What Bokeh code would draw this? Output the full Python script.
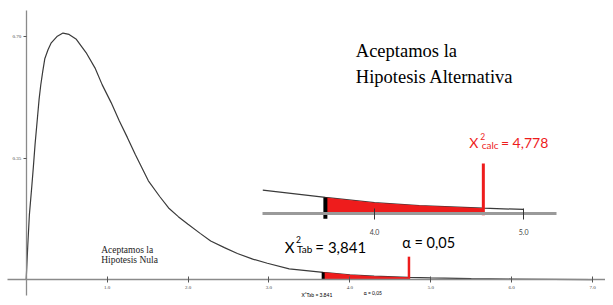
from bokeh.plotting import figure
from bokeh.models import Range1d, LinearAxis, FixedTicker, PrintfTickFormatter
from bokeh.core.properties import value
from bokeh.embed import file_html
from bokeh.resources import INLINE

# ---- data ----
curve_x = [0.0, 0.02, 0.04, 0.07, 0.09, 0.11, 0.14, 0.16, 0.18, 0.205, 0.23, 0.27, 0.31, 0.38, 0.455,
           0.53, 0.62, 0.74, 0.85, 0.94, 1.05, 1.15, 1.25, 1.35, 1.51, 1.65, 1.76, 1.88, 2.0, 2.15,
           2.28, 2.45, 2.61, 2.8, 2.98, 3.25, 3.67, 4.0, 4.3, 4.73, 5.0, 5.5, 6.0, 6.5, 7.0]
curve_y = [0.0, 0.10, 0.188, 0.27, 0.328, 0.39, 0.468, 0.52, 0.56, 0.60, 0.636, 0.662, 0.682, 0.700, 0.71,
           0.706, 0.692, 0.654, 0.61, 0.561, 0.51, 0.458, 0.41, 0.36, 0.285, 0.24, 0.207, 0.182, 0.16, 0.134,
           0.112, 0.093, 0.076, 0.06, 0.048, 0.032, 0.022, 0.015, 0.011, 0.0075, 0.0058, 0.004, 0.0028, 0.0018, 0.001]
x_ticks = [1, 2, 3, 4, 5, 6, 7]
y_ticks = [0.35, 0.70]
inset_ticks = [4.0, 5.0]
tab_at = 3.67       # where the tabulated value is drawn
calc_at = 4.73      # where the calculated value is drawn
tab_text = "3,841"
calc_text = "4,778"
alpha_text = "0,05"
inset_span = (3.25, 5.22)
main_calc_h = 0.067
inset_calc_h = 0.068

RED = "#ee1c1c"
CURVE = "#3a3a3a"
SERIF = value("Liberation Serif")
SANS = value("Lato")

p = figure(width=605, height=297, x_range=Range1d(-0.3171, 7.1585), y_range=Range1d(-0.0504, 0.8036),
           output_backend="svg", toolbar_location=None, x_axis_type=None, y_axis_type=None,
           min_border=0)
p.outline_line_color = None
p.background_fill_color = "white"
p.border_fill_color = "white"
# "inset" = zoomed view of the tail; "px" = annotation placement in reference pixels
p.extra_x_ranges = {"inset": Range1d(1.490, 5.5497), "px": Range1d(0, 613)}
p.extra_y_ranges = {"inset": Range1d(-0.1132, 0.2882), "px": Range1d(305, 0)}

# main axes
xa = LinearAxis(fixed_location=0, bounds=(-0.23, 7.16), ticker=FixedTicker(ticks=x_ticks),
                formatter=PrintfTickFormatter(format="%.1f"),
                axis_line_color="#8a8a8a", axis_line_width=1.3, major_tick_line_color="#555",
                major_tick_in=3, major_tick_out=3, minor_tick_line_color=None,
                major_label_text_font_size="5px", major_label_text_font="Liberation Serif",
                major_label_text_color="#444", major_label_standoff=3)
p.add_layout(xa, "below")
ya = LinearAxis(fixed_location=0, bounds=(-0.045, 0.7756), ticker=FixedTicker(ticks=y_ticks),
                formatter=PrintfTickFormatter(format="%.2f"),
                axis_line_color="#8a8a8a", axis_line_width=1.3, major_tick_line_color="#555",
                major_tick_in=0, major_tick_out=3, minor_tick_line_color=None,
                major_label_text_font_size="5px", major_label_text_font="Liberation Serif",
                major_label_text_color="#444", major_label_standoff=2)
p.add_layout(ya, "left")

# main curve, fill and marks
p.line(curve_x, curve_y, line_color=CURVE, line_width=1.2)
fx = [x for x in curve_x if tab_at <= x <= calc_at]
fy = [curve_y[curve_x.index(x)] for x in fx]
y_tab = curve_y[curve_x.index(tab_at)]
p.varea(x=fx, y1=[0] * len(fx), y2=fy, fill_color=RED)
p.segment(x0=[tab_at], y0=[0], x1=[tab_at], y1=[y_tab], line_color="black", line_width=3)
p.segment(x0=[calc_at], y0=[0], x1=[calc_at], y1=[main_calc_h], line_color=RED, line_width=2.5)

# inset (zoomed tail)
ia = LinearAxis(x_range_name="inset", y_range_name="inset", fixed_location=0, bounds=inset_span,
                ticker=FixedTicker(ticks=inset_ticks), formatter=PrintfTickFormatter(format="%.1f"),
                axis_line_color="#9a9a9a", axis_line_width=3, major_tick_line_color="#333",
                major_tick_in=5, major_tick_out=6, minor_tick_line_color=None,
                major_label_text_font_size="7px", major_label_text_font="Lato",
                major_label_text_color="#444", major_label_standoff=9)
p.add_layout(ia, "below")
ix = [x for x in curve_x if inset_span[0] <= x <= 5.05]
iy = [curve_y[curve_x.index(x)] for x in ix]
p.line(ix, iy, line_color=CURVE, line_width=1.2, x_range_name="inset", y_range_name="inset")
p.varea(x=fx, y1=[0] * len(fx), y2=fy, fill_color=RED, x_range_name="inset", y_range_name="inset")
p.segment(x0=[tab_at], y0=[-0.0066], x1=[tab_at], y1=[y_tab], line_color="black", line_width=4,
          x_range_name="inset", y_range_name="inset")
p.segment(x0=[calc_at], y0=[-0.002], x1=[calc_at], y1=[inset_calc_h], line_color=RED, line_width=3,
          x_range_name="inset", y_range_name="inset")

def txt(x, y, s, size, font=SANS, color="black", align="left", baseline="alphabetic"):
    p.text(x=[x], y=[y], text=[s], text_font=font, text_font_size=size, text_color=color,
           text_align=align, text_baseline=baseline, x_range_name="px", y_range_name="px")

# titles
txt(360, 52, "Aceptamos  la", "18.5px", font=SERIF)
txt(360, 79, "Hipotesis Alternativa", "18.5px", font=SERIF)
txt(102, 256, "Aceptamos  la", "9.5px", font=SERIF, color="#222")
txt(102, 266, "Hipotesis Nula", "9.5px", font=SERIF, color="#222")

# calculated value label
txt(475, 146, "X", "14px", color=RED)
txt(486, 140, "2", "8.5px", color=RED)
txt(487.5, 148, "calc", "10px", color=RED)
txt(507, 146, "= " + calc_text, "14px", color=RED)

# tabulated value label (inset)
txt(288, 253, "X", "15px")
txt(299.5, 245, "2", "8.5px")
txt(300.5, 255, "Tab", "10px")
txt(319, 253, "= " + tab_text, "15px")
txt(407, 249, "α = " + alpha_text, "14.5px")

# small labels under main axis
txt(305, 302, "X²Tab = " + tab_text, "5px")
txt(368, 300, "α = " + alpha_text, "5px")

open("out.html", "w").write(file_html(p, INLINE))
